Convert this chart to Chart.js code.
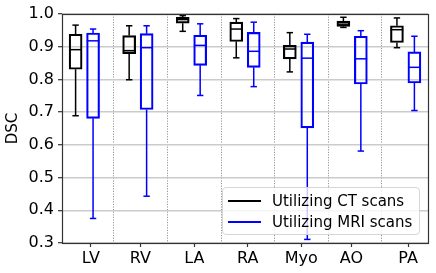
<!DOCTYPE html>
<html><head><meta charset="utf-8">
<script src="https://cdn.jsdelivr.net/npm/chart.js@4.4.0/dist/chart.umd.min.js"></script>
<style>
html,body{margin:0;padding:0;background:#fff;}
#wrap{position:relative;width:436px;height:273px;}
#legend{position:absolute;left:222px;top:187px;width:198px;height:48px;border:1px solid #d6d6d6;border-radius:4px;background:rgba(255,255,255,0.8);font-family:'DejaVu Sans';font-size:15px;color:#000;box-sizing:border-box;}
.row{position:absolute;left:0;right:0;height:20px;}
.row .ln{position:absolute;left:5px;top:9px;width:33px;height:2px;}
.row .tx{position:absolute;left:49px;top:0;line-height:20px;white-space:nowrap;}
</style>
</head><body>
<div id="wrap"><canvas id="c" width="436" height="273"></canvas>
<div id="legend">
  <div class="row" style="top:3px"><div class="ln" style="background-color:rgb(0,0,0)"></div><span class="tx" id="l0"></span></div>
  <div class="row" style="top:24px"><div class="ln" style="background-color:rgb(0,0,255)"></div><span class="tx" id="l1"></span></div>
</div></div>
<script>
// ---- data ----
const categories = ['LV', 'RV', 'LA', 'RA', 'Myo', 'AO', 'PA'];
const seriesNames = ['Utilizing CT scans', 'Utilizing MRI scans'];
const ctMin = [0.689, 0.799, 0.947, 0.866, 0.823, 0.959, 0.897];
const ctQ1  = [0.831, 0.879, 0.972, 0.916, 0.863, 0.962, 0.913];
const ctMed = [0.891, 0.888, 0.983, 0.954, 0.893, 0.969, 0.952];
const ctQ3  = [0.938, 0.934, 0.990, 0.975, 0.904, 0.978, 0.964];
const ctMax = [0.966, 0.964, 0.995, 0.986, 0.943, 0.990, 0.988];
const mriMin = [0.375, 0.443, 0.751, 0.778, 0.311, 0.581, 0.705];
const mriQ1  = [0.681, 0.708, 0.843, 0.837, 0.652, 0.786, 0.789];
const mriMed = [0.918, 0.897, 0.904, 0.886, 0.865, 0.863, 0.837];
const mriQ3  = [0.942, 0.940, 0.935, 0.944, 0.914, 0.932, 0.884];
const mriMax = [0.954, 0.964, 0.970, 0.975, 0.938, 0.949, 0.932];
const yTicks = [0.3, 0.4, 0.5, 0.6, 0.7, 0.8, 0.9, 1.0];

document.getElementById('l0').textContent = seriesNames[0];
document.getElementById('l1').textContent = seriesNames[1];

// ---- layout (positions in axis units) ----
const GROUP_OFF = 0.163;
const TICK_POS = [1.123, 2.045, 3.055, 4.052, 5.051, 5.986, 7.045];
const SEP_POS = [1.55, 2.55, 3.555, 4.555, 5.555, 6.55];
const X_MIN = 0.583, X_MAX = 7.417;
const FONT = "'DejaVu Sans', sans-serif";

function boxSets(minA, q1A, medA, q3A, maxA, off, color) {
  const xs = categories.map((c, i) => i + 1 + off);
  const whisk = [];
  xs.forEach((x, i) => {
    whisk.push({x, y: minA[i]}, {x, y: q1A[i]}, {x, y: null},
               {x, y: q3A[i]}, {x, y: maxA[i]}, {x, y: null});
  });
  const caps = [];
  xs.forEach((x, i) => { caps.push({x, y: minA[i]}, {x, y: maxA[i]}); });
  return [
    {type: 'line', data: whisk, borderColor: color, borderWidth: 1.5, pointRadius: 0, spanGaps: false, order: 3},
    {type: 'line', data: caps, showLine: false, pointStyle: 'line', pointRadius: 3.2, pointBorderColor: color, pointBorderWidth: 1.5, pointBackgroundColor: color, order: 2},
    {type: 'bar', data: xs.map((x, i) => ({x, y: [q1A[i], q3A[i]]})), grouped: false, barThickness: 13,
     backgroundColor: 'rgba(0,0,0,0)', borderColor: color, borderWidth: 1.5, borderSkipped: false, order: 1},
    {type: 'line', data: xs.map((x, i) => ({x, y: medA[i]})), showLine: false, pointStyle: 'line', pointRadius: 6.3, pointBorderColor: color, pointBorderWidth: 1.5, pointBackgroundColor: color, order: 0}
  ];
}

const framePlugin = {
  id: 'frame',
  afterDraw(chart) {
    const {ctx, chartArea: a} = chart;
    ctx.save();
    ctx.strokeStyle = '#333';
    ctx.lineWidth = 1.2;
    ctx.strokeRect(Math.round(a.left) + 0.5, Math.round(a.top) + 0.5, Math.round(a.right - a.left), Math.round(a.bottom - a.top));
    ctx.restore();
  }
};

new Chart(document.getElementById('c'), {
  type: 'bar',
  data: {
    datasets: [
      ...boxSets(ctMin, ctQ1, ctMed, ctQ3, ctMax, -GROUP_OFF, '#000000'),
      ...boxSets(mriMin, mriQ1, mriMed, mriQ3, mriMax, GROUP_OFF, '#0000ff')
    ]
  },
  plugins: [framePlugin],
  options: {
    responsive: false,
    animation: false,
    events: [],
    layout: {padding: {left: 0, right: 8, top: 14, bottom: 0}},
    plugins: {legend: {display: false}, tooltip: {enabled: false}, title: {display: false}},
    scales: {
      x: {
        type: 'linear', position: 'bottom', min: X_MIN, max: X_MAX, offset: false,
        afterBuildTicks: s => { s.ticks = TICK_POS.map(v => ({value: v})); },
        afterFit: s => { s.height = 30; },
        ticks: {autoSkip: false, maxRotation: 0, padding: 2, color: '#000',
                font: {family: FONT, size: 16}, callback: (v, i) => categories[i]},
        grid: {offset: false, drawOnChartArea: false, drawTicks: true, tickLength: 4, tickColor: '#333', tickWidth: 1.2},
        border: {display: false}
      },
      xg: {
        type: 'linear', position: 'top', min: X_MIN, max: X_MAX, offset: false,
        afterBuildTicks: s => { s.ticks = SEP_POS.map(v => ({value: v})); },
        afterFit: s => { s.height = 0; },
        ticks: {display: false},
        grid: {offset: false, drawTicks: false, color: '#8a8a8a', lineWidth: 0.9},
        border: {display: false, dash: [1.2, 1.4]}
      },
      y: {
        type: 'linear', min: 0.3, max: 1.0,
        afterBuildTicks: s => { s.ticks = yTicks.map(v => ({value: v})); },
        afterFit: s => { s.width = 62; },
        ticks: {padding: 4, color: '#000', font: {family: FONT, size: 16}, callback: v => v.toFixed(1)},
        grid: {color: '#cbcbcb', lineWidth: 1.4, drawTicks: true, tickLength: 4, tickColor: '#333', tickWidth: 1.2},
        border: {display: false},
        title: {display: true, text: 'DSC', color: '#000', font: {family: FONT, size: 15}, padding: {top: 4, bottom: 0}}
      }
    }
  }
});
</script>
</body></html>
